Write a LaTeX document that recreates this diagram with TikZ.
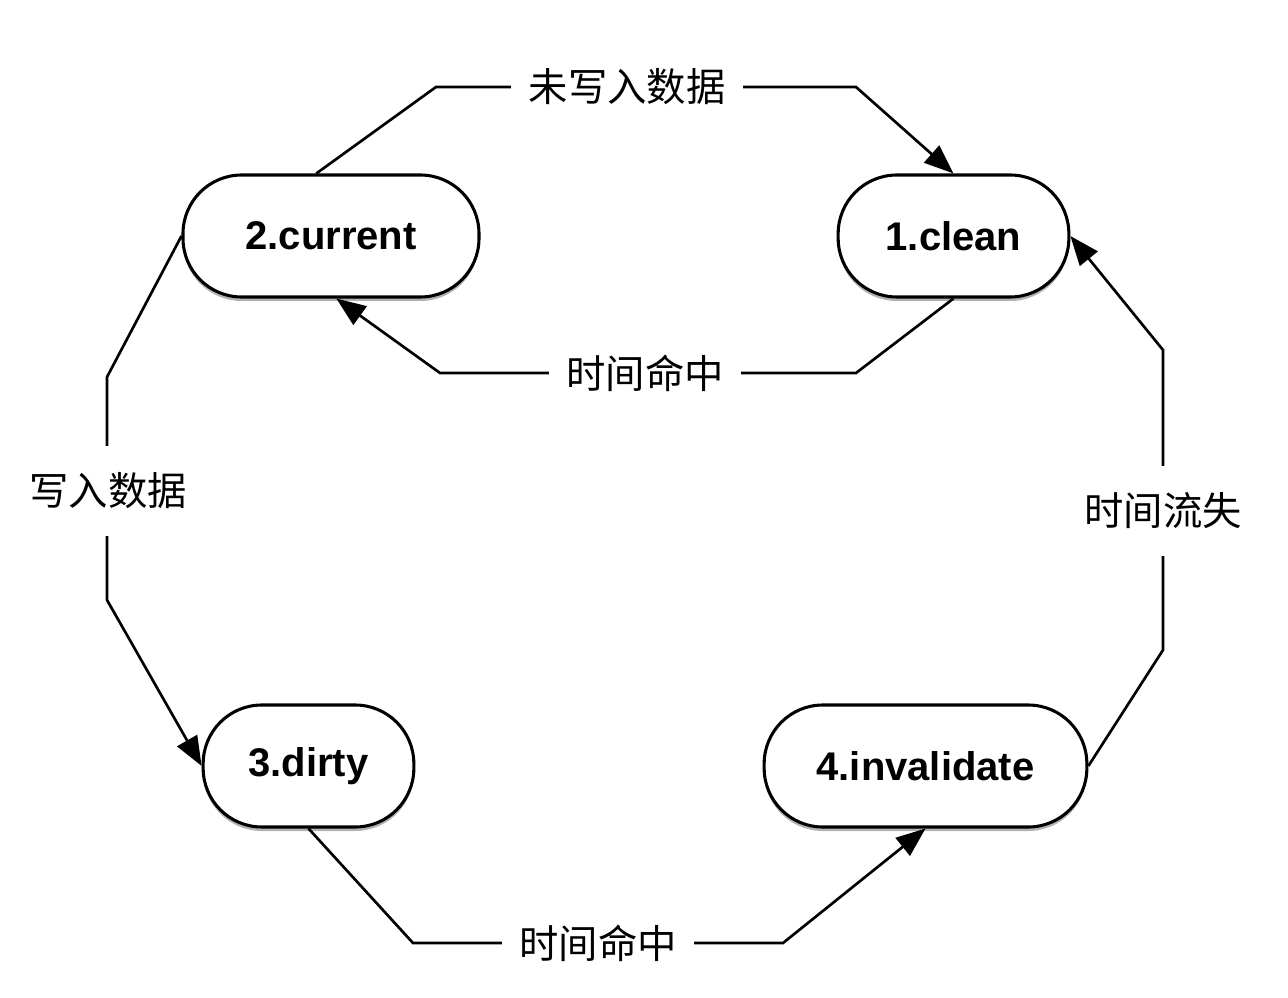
\documentclass[tikz,border=0pt]{standalone}
\usepackage{fontspec}
\setmainfont{Liberation Sans}
\newfontfamily\cjk{Noto Sans CJK SC}
\usetikzlibrary{arrows.meta,shadows}
\tikzset{
  state/.style={draw=black, line width=2.3pt, fill=white, rounded corners=44pt,
    minimum height=91.5pt, inner sep=0pt, font=\fontsize{30}{34}\selectfont\bfseries,
    drop shadow={shadow xshift=0pt, shadow yshift=-3pt, opacity=0.3, fill=black}},
  conn/.style={draw=black, line width=2pt, -{Triangle[length=22pt,width=17pt]}},
  lbl/.style={fill=white, inner xsep=13pt, inner ysep=2pt, font=\cjk\fontsize{29.5}{34}\selectfont},
  vlbl/.style={fill=white, inner xsep=2pt, inner ysep=20pt, font=\cjk\fontsize{29.5}{34}\selectfont}
}
\begin{document}
\begin{tikzpicture}[x=0.75pt, y=-0.75pt]
\useasboundingbox (0,0) rectangle (1288,998);
\node[state, minimum width=222pt] (cur) at (331,236) {2.current};
\node[state, minimum width=173pt] (clean) at (953.5,236) {1.clean};
\node[state, minimum width=158pt] (dirty) at (308.5,766) {3.dirty};
\node[state, minimum width=242pt] (inv) at (925.5,766) {4.invalidate};
% connectors
\draw[conn] ([xshift=-11pt]cur.north) -- (436,87) -- (856,87) -- (clean.north);
\draw[conn] (clean.south) -- (856,373) -- (440,373) -- ([xshift=4pt]cur.south);
\draw[conn] (cur.west) -- (107,377) -- (107,600) -- (dirty.west);
\draw[conn] (dirty.south) -- (413,943) -- (783,943) -- (inv.south);
\draw[conn] (inv.east) -- (1163,650) -- (1163,350) -- (clean.east);
% labels
\node[lbl] (l1) at (627,87) {未写入数据};
\node[lbl] (l2) at (645,373) {时间命中};
\node[vlbl] (l3) at (108,491) {写入数据};
\node[lbl] (l4) at (598,943) {时间命中};
\node[vlbl] (l5) at (1163,511) {时间流失};
\end{tikzpicture}
\end{document}
